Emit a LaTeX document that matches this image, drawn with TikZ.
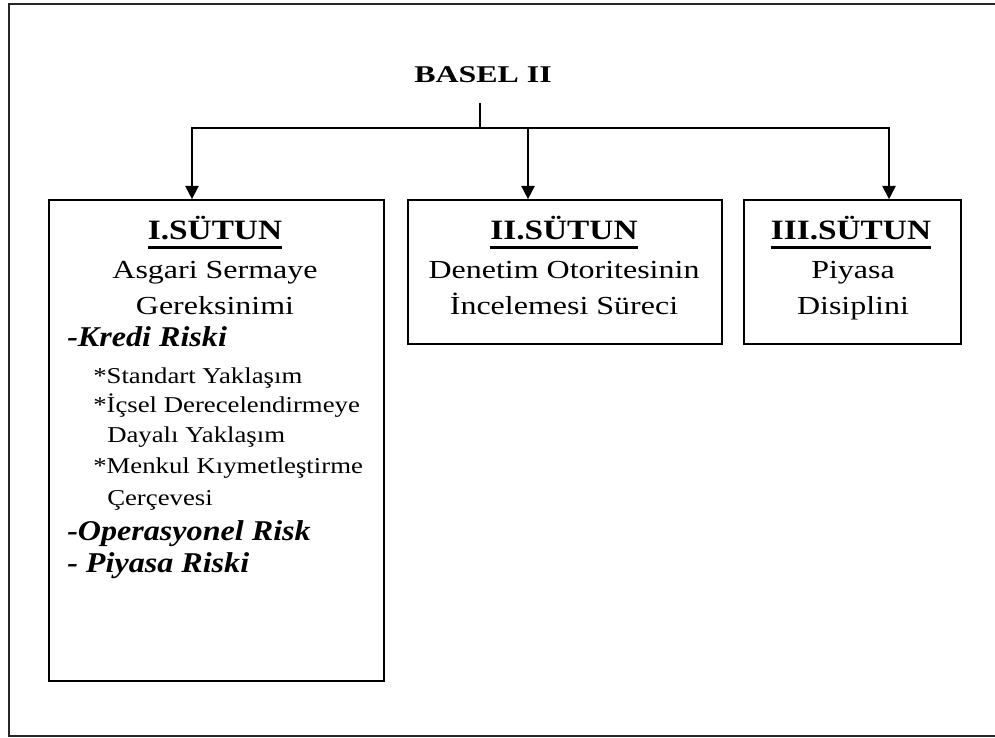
\documentclass[tikz,border=0pt]{standalone}
\usepackage{fontspec}
\setmainfont{Liberation Serif}
% widened serif faces for the different text levels
\newfontfamily\fBase{Liberation Serif}[FakeStretch=1.33]
\newfontfamily\fTitle{Liberation Serif}[FakeStretch=1.19]
\newfontfamily\fBody{Liberation Serif}[FakeStretch=1.23]
\newfontfamily\fRisk{Liberation Serif}[FakeStretch=1.12]
\newfontfamily\fSub{Liberation Serif}[FakeStretch=1.18]
\usetikzlibrary{arrows.meta}

% heading with a heavy underline
\newsavebox\hdbox
\newcommand\heading[1]{\sbox\hdbox{#1}\rlap{\usebox\hdbox}\rule[-7.5pt]{\wd\hdbox}{2.4pt}}

\tikzset{
  pillar/.style={draw=black, line width=1.3pt, inner sep=0pt},
  link/.style={line width=1.3pt, -{Triangle[width=10pt,length=10pt]}},
  plain/.style={line width=1.3pt},
  frame/.style={line width=1.5pt, draw=black!85},
  txt/.style={inner sep=0pt, anchor=base, text=black},
  ltxt/.style={inner sep=0pt, anchor=base west, text=black},
  basef/.style={font=\fBase\bfseries\fontsize{18pt}{21pt}\selectfont},
  titlef/.style={font=\fTitle\bfseries\fontsize{21pt}{24pt}\selectfont},
  bodyf/.style={font=\fBody\fontsize{19.5pt}{22pt}\selectfont},
  riskf/.style={font=\fRisk\bfseries\itshape\fontsize{21.5pt}{24pt}\selectfont},
  subf/.style={font=\fSub\fontsize{17pt}{20pt}\selectfont}
}

\begin{document}
\begin{tikzpicture}[x=0.75pt, y=-0.75pt]
\useasboundingbox (0,0) rectangle (995,738);

% outer frame (open on the right side)
\draw[frame] (1000,4) -- (9,4) -- (9,736) -- (1000,736);

% root label
\node[txt, basef] (basel) at (483,83) {BASEL II};

% the three pillars
\node[pillar, minimum width=251.25pt, minimum height=360.75pt] (b1) at (216.5,440.5) {};
\node[pillar, minimum width=235.5pt, minimum height=108pt] (b2) at (565,272) {};
\node[pillar, minimum width=162.75pt, minimum height=108pt] (b3) at (852.5,272) {};

% connectors
\coordinate (stem) at (480,103);
\coordinate (split) at (480,128);
\draw[plain] (stem) -- (split);
\draw[link] (split) -| ([xshift=-18.4pt]b1.north);
\draw[link] (split) -| ([xshift=-27.75pt]b2.north);
\draw[link] (split) -| ([xshift=27.4pt]b3.north);

% pillar I
\node[txt, titlef] (t1) at (215,239) {\heading{I.SÜTUN}};
\node[txt, bodyf] (t1a) at (215,278) {Asgari Sermaye};
\node[txt, bodyf] (t1b) at (215,314) {Gereksinimi};
\node[ltxt, riskf] (r1) at (67,346) {-Kredi Riski};
\node[ltxt, subf] (s1) at (93,383) {*Standart Yaklaşım};
\node[ltxt, subf] (s2) at (93,412) {*İçsel Derecelendirmeye};
\node[ltxt, subf] (s2b) at (107,442) {Dayalı Yaklaşım};
\node[ltxt, subf] (s3) at (93,473) {*Menkul Kıymetleştirme};
\node[ltxt, subf] (s3b) at (107,505) {Çerçevesi};
\node[ltxt, riskf] (r2) at (67,540) {-Operasyonel Risk};
\node[ltxt, riskf] (r3) at (67,572) {- Piyasa Riski};

% pillar II
\node[txt, titlef] (t2) at (564,239) {\heading{II.SÜTUN}};
\node[txt, bodyf] (t2a) at (564,278) {Denetim Otoritesinin};
\node[txt, bodyf] (t2b) at (564,314) {İncelemesi Süreci};

% pillar III
\node[txt, titlef] (t3) at (851,239) {\heading{III.SÜTUN}};
\node[txt, bodyf] (t3a) at (853,278) {Piyasa};
\node[txt, bodyf] (t3b) at (853,314) {Disiplini};
\end{tikzpicture}
\end{document}
